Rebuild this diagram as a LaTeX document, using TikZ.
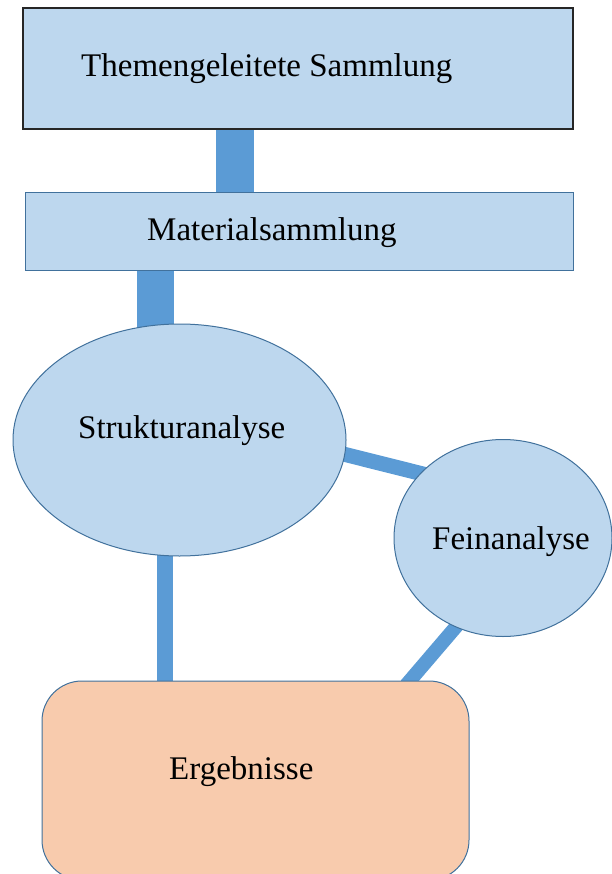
\documentclass[tikz,border=0pt]{standalone}
\usepackage{fontspec}
\setmainfont{Liberation Serif}
\usetikzlibrary{shapes.geometric,backgrounds}
\definecolor{boxblue}{HTML}{BDD7EE}
\definecolor{linkblue}{HTML}{5B9BD5}
\definecolor{edgeblue}{HTML}{41719C}
\definecolor{resultorange}{HTML}{F8CBAD}

\begin{document}
\begin{tikzpicture}[x=1pt, y=-1pt,
    box/.style={rectangle, draw=edgeblue, fill=boxblue, line width=1pt, inner sep=0pt},
    blob/.style={ellipse, draw=edgeblue, fill=boxblue, line width=1pt, inner sep=0pt},
    caption/.style={anchor=base west, inner sep=0pt, font=\fontsize{33}{40}\selectfont},
    link/.style={draw=linkblue, line cap=butt}]
    \useasboundingbox (0,0) rectangle (612,874);

    % Boxes and ellipses
    \node[box, draw=black!85, line width=1.4pt, minimum width=550pt, minimum height=121pt] (thema) at (298,68.5) {};
    \node[box, minimum width=548pt, minimum height=78pt] (material) at (299,232) {};
    \node[blob, minimum width=333pt, minimum height=232pt] (struktur) at (179.5,440) {};
    \node[blob, minimum width=218pt, minimum height=197pt] (fein) at (503,538) {};
    \node[box, fill=resultorange, rounded corners=40pt, minimum width=427pt, minimum height=199pt] (ergebnisse) at (255.5,780.5) {};

    % Labels
    \node[caption] (themaText) at (81,77) {Themengeleitete Sammlung};
    \node[caption] (materialText) at (147,241) {Materialsammlung};
    \node[caption] (strukturText) at (78,438) {Strukturanalyse};
    \node[caption] (feinText) at (432,549) {Feinanalyse};
    \node[caption] (ergebnisseText) at (169,779) {Ergebnisse};

    % Connectors
    \begin{scope}[on background layer]
    \draw[link, line width=38pt] ([xshift=-63pt]thema.south) -- ([xshift=-63pt]thema.south |- material.north);
    \draw[link, line width=37pt] ([xshift=-144pt]material.south) -- ([xshift=-144pt]material.south |- struktur.center);
    \draw[link, line width=15pt, shorten <=-20pt, shorten >=-20pt] (struktur.-5) -- (fein.142);
    \draw[link, line width=16pt, shorten >=-3pt] ([xshift=-14.5pt]struktur.center) -- ([xshift=-14.5pt]struktur.center |- ergebnisse.north);
    \draw[link, line width=14pt, shorten <=-6pt, shorten >=-6pt] (fein.-118) -- ([xshift=154.5pt]ergebnisse.north);
    \end{scope}
\end{tikzpicture}
\end{document}
